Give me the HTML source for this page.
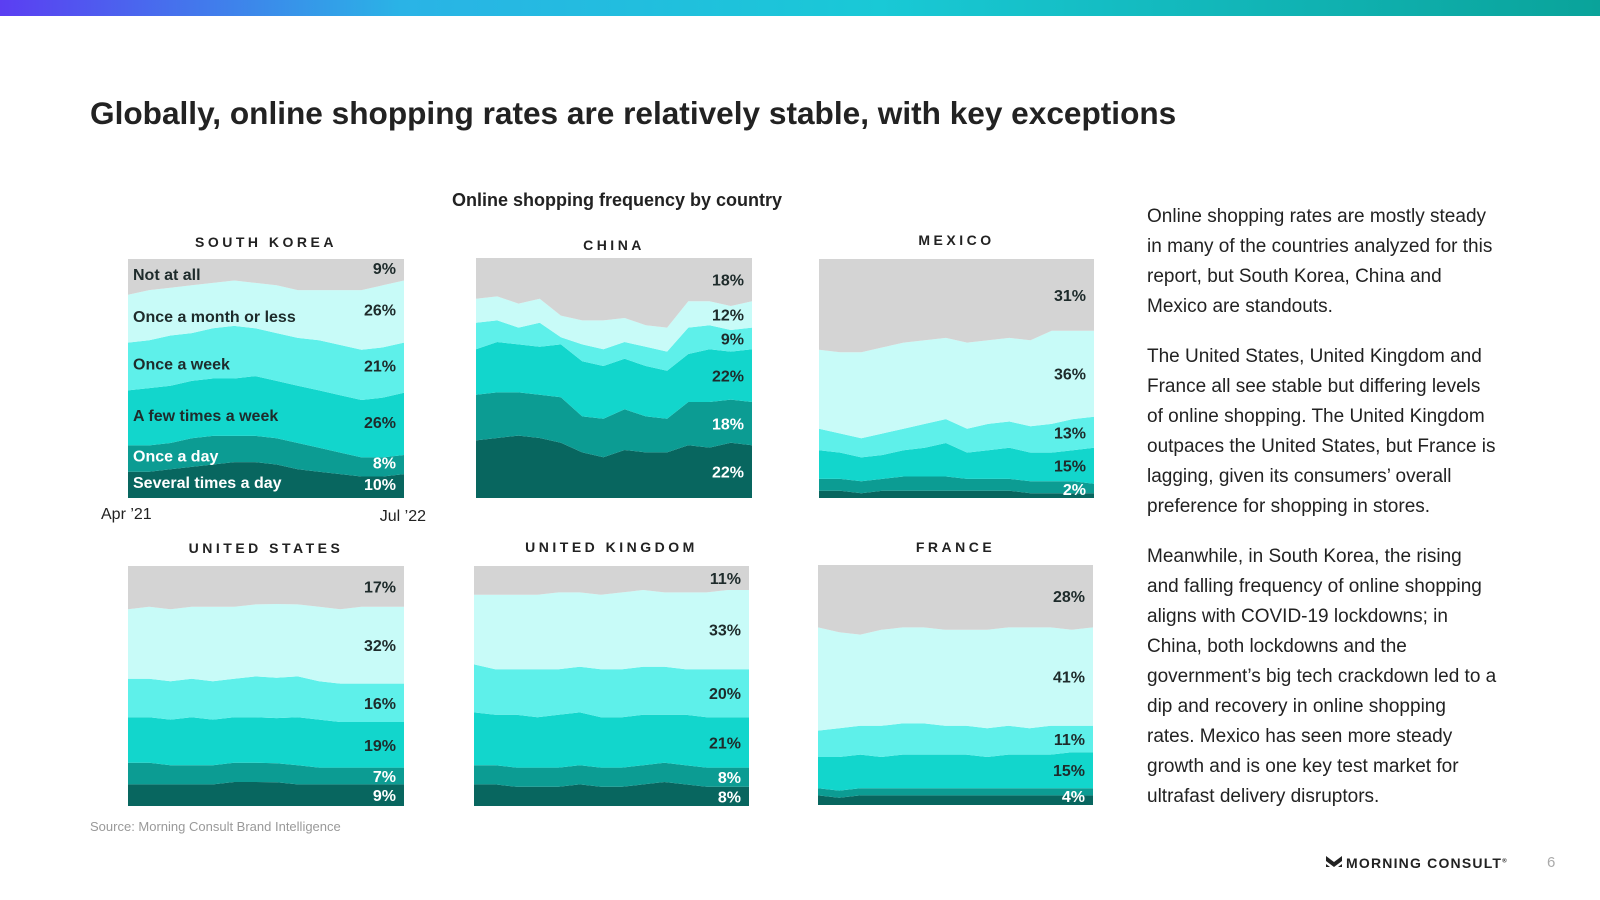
<!DOCTYPE html>
<html><head><meta charset="utf-8"><style>
body{margin:0;width:1600px;height:900px;background:#fff;font-family:"Liberation Sans",sans-serif;position:relative;overflow:hidden;color:#222}
.abs{position:absolute}
#bar{left:0;top:0;width:1600px;height:16px;background:linear-gradient(90deg,#5b3ef2 0%,#2ab3e6 25%,#19c9d6 55%,#0aa39a 100%)}
#title{left:90px;top:95px;font-size:31.6px;font-weight:bold;color:#222}
#sub{left:417px;width:400px;text-align:center;top:190px;font-size:18px;font-weight:bold}
#txt{left:1147px;top:202px;width:350px;font-size:19px;line-height:30px;color:#222}
#txt p{margin:0 0 20px 0}
#src{left:90px;top:819px;font-size:13px;color:#999}
#logo{left:1326px;top:855px;font-size:14px;font-weight:bold;letter-spacing:1.2px}
#pg{left:1547px;top:854px;font-size:15px;color:#aaa}
</style></head><body>
<div id="bar" class="abs"></div>
<div id="title" class="abs">Globally, online shopping rates are relatively stable, with key exceptions</div>
<div id="sub" class="abs">Online shopping frequency by country</div>
<svg id="chart" class="abs" style="left:0;top:0" width="1120" height="900"></svg>
<div id="txt" class="abs">
<p>Online shopping rates are mostly steady in many of the countries analyzed for this report, but South Korea, China and Mexico are standouts.</p>
<p>The United States, United Kingdom and France all see stable but differing levels of online shopping. The United Kingdom outpaces the United States, but France is lagging, given its consumers’ overall preference for shopping in stores.</p>
<p>Meanwhile, in South Korea, the rising and falling frequency of online shopping aligns with COVID-19 lockdowns; in China, both lockdowns and the government’s big tech crackdown led to a dip and recovery in online shopping rates. Mexico has seen more steady growth and is one key test market for ultrafast delivery disruptors.</p>
</div>
<div id="src" class="abs">Source: Morning Consult Brand Intelligence</div>
<div id="logo" class="abs"><svg width="16" height="14" style="vertical-align:-2px;margin-right:4px"><path d="M0 0L8 6L16 0V5L8 11L0 5Z" fill="#222"/><path d="M0 8L4 11H0ZM16 8L12 11H16Z" fill="#222"/></svg>MORNING CONSULT<sup style="font-size:6px">®</sup></div>
<div id="pg" class="abs">6</div>
<script>
const seriesNames=["Several times a day","Once a day","A few times a week","Once a week","Once a month or less","Not at all"];
const colors=["#08665f","#0c9c93","#12d6cc","#5ef0ea","#c8fbf8","#d4d4d4"];
const labelDark=[false,false,true,true,true,true];
const countries=["SOUTH KOREA","CHINA","MEXICO","UNITED STATES","UNITED KINGDOM","FRANCE"];
const skSeveral=[11,11,12,13,14,15,15,14,12,11,10,9,9,10];
const skOnceDay=[11,11,11,12,12,11,11,11,11,10,9,8,8,8];
const skFew=[23,24,24,24,24,24,25,24,24,24,24,24,25,26];
const skWeek=[20,20,21,20,21,22,20,20,20,21,21,21,21,21];
const skMonth=[20,21,20,20,19,19,19,20,20,21,23,25,26,26];
const skNot=[15,13,12,11,10,9,10,11,13,13,13,13,11,9];
const cnSeveral=[24,25,26,25,23,19,17,20,19,19,22,21,23,22];
const cnOnceDay=[19,19,18,18,19,15,16,17,15,14,18,19,18,18];
const cnFew=[19,21,20,20,22,23,22,21,21,20,20,22,20,22];
const cnWeek=[11,9,7,10,3,7,7,7,8,8,11,10,9,9];
const cnMonth=[10,10,10,10,9,10,12,10,9,10,11,10,10,11];
const cnNot=[17,16,19,17,24,26,26,25,28,29,18,18,20,18];
const mxSeveral=[3,3,2,3,3,3,3,3,3,3,2,2,2,2];
const mxOnceDay=[5,5,5,5,6,6,6,5,5,5,5,5,5,4];
const mxFew=[12,11,10,10,11,12,14,11,12,13,12,12,13,15];
const mxWeek=[9,8,8,9,9,10,10,10,11,11,11,12,13,13];
const mxMonth=[33,34,36,36,36,35,34,36,35,35,36,39,37,36];
const mxNot=[38,39,39,37,35,34,33,35,34,33,34,30,30,30];
const usSeveral=[9,9,9,9,9,10,10,10,9,9,9,9,9,9];
const usOnceDay=[9,9,8,8,8,8,8,8,8,7,7,7,7,7];
const usFew=[19,19,19,20,19,19,19,19,20,20,19,19,19,19];
const usWeek=[16,16,16,16,16,16,17,17,17,16,16,16,16,16];
const usMonth=[29,30,30,30,31,30,30,31,30,31,31,32,32,32];
const usNot=[18,17,18,17,17,17,16,16,16,17,18,17,17,17];
const ukSeveral=[9,9,8,8,8,9,8,8,9,10,9,8,8,8];
const ukOnceDay=[8,8,8,8,8,8,8,8,8,8,8,8,8,8];
const ukFew=[22,21,22,21,22,22,21,21,21,20,21,21,21,21];
const ukWeek=[20,19,19,20,19,19,20,20,20,20,19,20,20,20];
const ukMonth=[29,31,31,31,32,31,31,32,32,31,32,32,33,33];
const ukNot=[12,12,12,12,11,11,12,11,10,11,11,11,10,10];
const frSeveral=[4,3,4,4,4,4,4,4,4,4,4,4,4,4];
const frOnceDay=[3,3,3,3,3,3,3,3,3,3,3,3,3,3];
const frFew=[13,14,14,13,14,14,14,14,13,14,14,14,15,15];
const frWeek=[11,12,12,13,13,13,12,12,12,12,11,12,11,11];
const frMonth=[43,40,38,40,40,40,40,40,41,41,42,41,40,41];
const frNot=[26,28,29,27,26,26,27,27,27,26,26,26,27,26];
const skLabels=["10%","8%","26%","21%","26%","9%"];
const cnLabels=["22%","18%","22%","9%","12%","18%"];
const mxLabels=["2%","","15%","13%","36%","31%"];
const usLabels=["9%","7%","19%","16%","32%","17%"];
const ukLabels=["8%","8%","21%","20%","33%","11%"];
const frLabels=["4%","","15%","11%","41%","28%"];
</script>
<script>
const data=[[skSeveral,skOnceDay,skFew,skWeek,skMonth,skNot],[cnSeveral,cnOnceDay,cnFew,cnWeek,cnMonth,cnNot],[mxSeveral,mxOnceDay,mxFew,mxWeek,mxMonth,mxNot],[usSeveral,usOnceDay,usFew,usWeek,usMonth,usNot],[ukSeveral,ukOnceDay,ukFew,ukWeek,ukMonth,ukNot],[frSeveral,frOnceDay,frFew,frWeek,frMonth,frNot]];
const labels=[skLabels,cnLabels,mxLabels,usLabels,ukLabels,frLabels];
const boxes=[[128,259,404,498],[476,258,752,498],[819,259,1094,498],[128,566,404,806],[474,566,749,806],[818,565,1093,805]];
const titleY=[247,250,245,553,552,552];
const NS="http://www.w3.org/2000/svg";
const svg=document.getElementById('chart');
function mk(t,a){const e=document.createElementNS(NS,t);for(const k in a)e.setAttribute(k,a[k]);svg.appendChild(e);return e;}
data.forEach((ser,ci)=>{
  const [x0,y0,x1,y1]=boxes[ci];const n=ser[0].length;
  const xs=i=>x0+(x1-x0)*i/(n-1);
  const tot=[];for(let i=0;i<n;i++){let s=0;ser.forEach(a=>s+=a[i]);tot.push(s);}
  const cum=[new Array(n).fill(0)];
  ser.forEach((a,k)=>{cum.push(cum[k].map((v,i)=>v+a[i]/tot[i]));});
  const ys=f=>y1-(y1-y0)*f;
  for(let k=0;k<ser.length;k++){
    let d="";for(let i=0;i<n;i++)d+=(i?"L":"M")+xs(i).toFixed(1)+" "+ys(cum[k+1][i]).toFixed(1);
    for(let i=n-1;i>=0;i--)d+="L"+xs(i).toFixed(1)+" "+ys(cum[k][i]).toFixed(1);
    const p=mk('path',{d:d+"Z",fill:colors[k]});
    
    
  }
  const t=mk('text',{x:(x0+x1)/2,y:titleY[ci],'text-anchor':'middle','font-size':14,'font-weight':'bold','letter-spacing':3.5,fill:'#222'});
  t.textContent=countries[ci];
  
  
  let prev=1e9;
  for(let k=0;k<ser.length;k++){
    const lab=labels[ci][k];if(!lab)continue;
    let y=ys((cum[k][n-1]+cum[k+1][n-1])/2)+(ci===0?4:6);
    if(y>y1-3)y=y1-3;
    if(y>prev-19)y=prev-19;prev=y;
    const e=mk('text',{x:x1-8,y:y,'text-anchor':'end','font-size':16,'font-weight':'bold',fill:labelDark[k]?'#1e2b2b':'#fff'});
    e.textContent=lab;
    
    
  }
  if(ci===0){
    let pv=1e9;
    for(let k=0;k<ser.length;k++){
      let y=ys((cum[k][0]+cum[k+1][0])/2)+3;
      if(y>y1-6)y=y1-6;if(y>pv-22)y=pv-22;pv=y;
      const e=mk('text',{x:x0+5,y:y,'font-size':16,'font-weight':'bold',fill:labelDark[k]?'#1e2b2b':'#fff'});
      e.textContent=seriesNames[k];
      
      
    }
    const a=mk('text',{x:101,y:519,'font-size':16,fill:'#222'});a.textContent="Apr ’21";
    
    
    const b=mk('text',{x:426,y:521,'font-size':16,fill:'#222','text-anchor':'end'});b.textContent="Jul ’22";
    
    
  }
});
</script>
</body></html>
